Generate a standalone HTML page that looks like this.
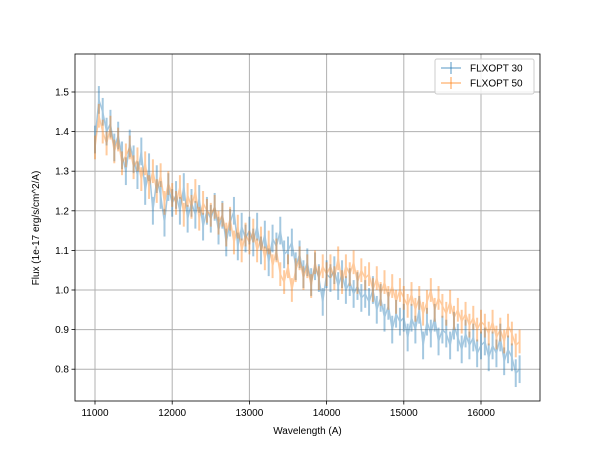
<!DOCTYPE html>
<html><head><meta charset="utf-8"><style>
body{margin:0;background:#fff;font-family:"Liberation Sans","DejaVu Sans",sans-serif}
text{font-family:"Liberation Sans","DejaVu Sans",sans-serif}
</style></head><body>
<svg id="chart" width="600" height="450" xmlns="http://www.w3.org/2000/svg">
<rect width="600" height="450" fill="#fff"/>
<g id="grid"></g><g id="series"></g><g id="axes"></g>
</svg>
<script>
const xTicks=[11000,12000,13000,14000,15000,16000];
const yTicks=[0.8,0.9,1.0,1.1,1.2,1.3,1.4,1.5];
const yTickLabels=["0.8","0.9","1.0","1.1","1.2","1.3","1.4","1.5"];
const waveStart=11000, waveStep=50;
const flux30=[1.38,1.48,1.45,1.40,1.42,1.36,1.39,1.34,1.30,1.37,1.33,
1.29,1.35,1.25,1.31,1.20,1.28,1.24,1.17,1.26,1.22,
1.24,1.20,1.26,1.18,1.22,1.19,1.23,1.16,1.20,1.18,
1.21,1.15,1.19,1.12,1.17,1.20,1.11,1.16,1.13,1.15,
1.12,1.16,1.10,1.14,1.07,1.13,1.11,1.15,1.09,1.10,
1.12,1.06,1.09,1.04,1.07,1.02,1.06,1.03,0.97,1.04,
1.03,1.05,1.01,1.04,1.00,1.02,0.99,1.01,0.98,0.99,
0.97,1.00,0.95,0.98,0.93,0.96,0.90,0.94,0.92,0.93,
0.88,0.93,0.90,0.95,0.86,0.92,0.89,0.93,0.87,0.90,
0.89,0.86,0.91,0.88,0.85,0.89,0.86,0.88,0.84,0.86,
0.87,0.83,0.86,0.84,0.88,0.82,0.85,0.83,0.79,0.80];
const flux50=[1.36,1.44,1.40,1.37,1.41,1.35,1.38,1.32,1.34,1.36,1.31,
1.33,1.28,1.32,1.26,1.30,1.25,1.29,1.22,1.27,1.24,
1.22,1.26,1.19,1.24,1.21,1.25,1.18,1.22,1.20,1.19,
1.21,1.17,1.19,1.14,1.18,1.12,1.16,1.10,1.14,1.12,
1.15,1.10,1.13,1.08,1.12,1.06,1.10,1.04,1.02,1.06,
1.00,1.05,1.08,1.03,1.06,1.01,1.07,1.03,1.06,1.04,
1.06,1.03,1.08,1.02,1.06,1.04,1.07,1.02,1.05,1.03,
1.04,1.00,1.03,0.99,1.02,0.98,1.01,0.97,1.00,0.98,
0.96,0.99,0.95,0.98,0.94,0.97,1.00,0.95,0.98,0.96,
0.94,0.97,0.93,0.95,0.92,0.94,0.91,0.93,0.90,0.92,
0.91,0.89,0.92,0.88,0.90,0.87,0.91,0.89,0.86,0.87];
const err30=0.035, err50=0.03;
const L=75,R=540,T=54,B=401;
const xs=v=>95+(v-11000)*0.0772;
const ys=v=>92+(1.5-v)*396;
const NS="http://www.w3.org/2000/svg";
function mk(tag,attrs,parent,txt){const e=document.createElementNS(NS,tag);for(const k in attrs)e.setAttribute(k,attrs[k]);if(txt!==undefined)e.textContent=txt;parent.appendChild(e);return e;}
const grid=document.getElementById('grid'),axes=document.getElementById('axes'),ser=document.getElementById('series');
xTicks.forEach(t=>{
 const g=mk('line',{x1:xs(t),x2:xs(t),y1:T,y2:B,stroke:'#b0b0b0','stroke-width':1},grid);
 
 mk('line',{x1:xs(t),x2:xs(t),y1:B,y2:B+3.5,stroke:'#000','stroke-width':0.8},axes);
 const l=mk('text',{x:xs(t),y:B+15,'font-size':10,'text-anchor':'middle'},axes,String(t));
 
});
yTicks.forEach((t,i)=>{
 const g=mk('line',{x1:L,x2:R,y1:ys(t),y2:ys(t),stroke:'#b0b0b0','stroke-width':1},grid);
 
 mk('line',{x1:L-3.5,x2:L,y1:ys(t),y2:ys(t),stroke:'#000','stroke-width':0.8},axes);
 const l=mk('text',{x:L-6,y:ys(t)+3.5,'font-size':10,'text-anchor':'end'},axes,yTickLabels[i]);
 
});
function drawSeries(vals,err,color,name){
 const g=mk('g',{opacity:0.4},ser);
 
 let pts=[];
 vals.forEach((v,i)=>{const x=xs(waveStart+i*waveStep);pts.push(x.toFixed(1)+','+ys(v).toFixed(1));
  mk('line',{x1:x,x2:x,y1:ys(v+err),y2:ys(v-err),stroke:color,'stroke-width':2},g);});
 mk('polyline',{points:pts.join(' '),fill:'none',stroke:color,'stroke-width':1.5},g);
}
drawSeries(flux30,err30,'#1f77b4','series-flxopt-30');
drawSeries(flux50,err50,'#ff7f0e','series-flxopt-50');
const fr=mk('rect',{x:L,y:T,width:R-L,height:B-T,fill:'none',stroke:'#000','stroke-width':0.8},axes);

const xt=mk('text',{x:(L+R)/2,y:434,'font-size':10,'text-anchor':'middle'},axes,'Wavelength (A)');

const yt=mk('text',{x:0,y:0,'font-size':10,'text-anchor':'middle',transform:'translate(39,228) rotate(-90)'},axes,'Flux (1e-17 erg/s/cm^2/A)');

const lg=mk('g',{},axes);
mk('rect',{x:435,y:59,width:99,height:35,rx:2,fill:'#fff','fill-opacity':0.8,stroke:'#ccc','stroke-width':1},lg);
[['FLXOPT 30','#1f77b4',71],['FLXOPT 50','#ff7f0e',86]].forEach(([n,c,y])=>{
 const e=mk('g',{},lg);
 mk('line',{x1:441,x2:461,y1:y-3,y2:y-3,stroke:c,'stroke-width':1.5,opacity:0.5},e);
 mk('line',{x1:451,x2:451,y1:y-9,y2:y+3,stroke:c,'stroke-width':1.5,opacity:0.5},e);
 mk('text',{x:470,y:y+0.5,'font-size':10},e,n);
});
</script>
</body></html>
